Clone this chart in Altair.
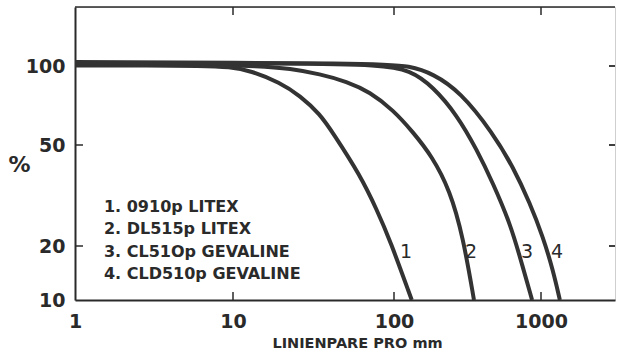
import altair as alt
import pandas as pd

# ---- data ----
c1_x = [1, 3, 6.2, 9.6, 12.8, 19.6, 26.1, 34.7, 41.8, 61.5, 78.4, 94.4, 132]
c1_y = [100.5, 100.5, 100.2, 99.2, 96, 86.5, 77, 65.6, 55.5, 38.1, 27.7, 21.1, 10]
c2_x = [1, 6.2, 14.7, 22.6, 34.7, 51, 70.9, 98.6, 134.6, 181, 240, 295, 350]
c2_y = [101.5, 101.3, 100, 97.8, 93.2, 87.2, 79.6, 68, 56, 45.2, 33.2, 21.7, 10]
c3_x = [1, 26, 82, 128.5, 184, 268, 367, 471, 615, 719, 870]
c3_y = [102.5, 102.3, 101, 96.6, 83.5, 65.1, 47.8, 35.4, 24.6, 17.4, 10]
c4_x = [1, 80, 128.5, 184, 281, 471, 645, 841, 1032, 1207, 1345]
c4_y = [103.5, 102.5, 100, 93.5, 80, 55.5, 41, 29.5, 21.7, 14.7, 10]

legend_lines = ["1. 0910p LITEX", "2. DL515p LITEX", "3. CL51Op GEVALINE", "4. CLD510p GEVALINE"]
legend_y = [28.4, 23.3, 18.6, 14.05]
legend_x = [1.525] * 4

curve_labels = ["1", "2", "3", "4"]
curve_label_x = [120.6, 334, 803, 1285]
curve_label_y = [18.6] * 4

x_ticks = [1, 10, 100, 1000]
y_ticks = [10, 20, 50, 100]
x_inner_ticks = [10, 100, 1000]
y_left_inner = [20, 50]
y_right_inner = [20, 50, 100]

W, H = 540, 293
INK = "#2a2a2a"

rows = []
for cid, xs, ys in [("1", c1_x, c1_y), ("2", c2_x, c2_y), ("3", c3_x, c3_y), ("4", c4_x, c4_y)]:
    for i, (a, b) in enumerate(zip(xs, ys)):
        rows.append({"curve": cid, "lp": a, "pct": b, "order": i})
df = pd.DataFrame(rows)

xscale = alt.Scale(type="log", domain=[1, 10, 100, 1000, 3200],
                   range=[0, 158, 319, 466, W], nice=False, zero=False)
yscale = alt.Scale(type="log", domain=[10, 20, 50, 100, 168],
                   range=[H, 239, 138, 59, 0], nice=False, zero=False)

xaxis = alt.Axis(values=x_ticks, format="d", ticks=False, grid=False,
                 domainColor=INK, domainWidth=2, labelPadding=12,
                 labelFlush=False, labelOverlap=False,
                 title="LINIENPARE PRO mm", titleX=282, titleY=43,
                 titleAlign="center", titleBaseline="middle",
                 titleFont="DejaVu Sans", titleFontSize=14.5, titleFontWeight="bold")
yaxis = alt.Axis(values=y_ticks, format="d", ticks=False, grid=False,
                 domainColor=INK, domainWidth=2, labelPadding=10,
                 labelFlush=False, labelOverlap=False, labelBaseline="middle",
                 title="%", titleAngle=0, titleX=-56, titleY=157,
                 titleAlign="center", titleBaseline="middle",
                 titleFont="DejaVu Sans", titleFontSize=22, titleFontWeight="bold")

lines = alt.Chart(df).mark_line(color="#333333", strokeWidth=4,
                                interpolate="basis", clip=True).encode(
    x=alt.X("lp:Q", scale=xscale, axis=xaxis),
    y=alt.Y("pct:Q", scale=yscale, axis=yaxis),
    detail="curve:N",
    order="order:Q",
)

xt = pd.DataFrame({"v": x_inner_ticks})
bottom_ticks = alt.Chart(xt).mark_rule(color=INK, strokeWidth=1.5).encode(
    x=alt.X("v:Q", scale=xscale), y=alt.value(H), y2=alt.value(H - 8))
top_ticks = alt.Chart(xt).mark_rule(color=INK, strokeWidth=1.5).encode(
    x=alt.X("v:Q", scale=xscale), y=alt.value(0), y2=alt.value(8))
left_ticks = alt.Chart(pd.DataFrame({"v": y_left_inner})).mark_rule(color=INK, strokeWidth=1.5).encode(
    y=alt.Y("v:Q", scale=yscale), x=alt.value(0), x2=alt.value(8))
right_ticks = alt.Chart(pd.DataFrame({"v": y_right_inner})).mark_rule(color=INK, strokeWidth=1.8).encode(
    y=alt.Y("v:Q", scale=yscale), x=alt.value(W - 6), x2=alt.value(W))
top_border = alt.Chart(pd.DataFrame({"v": [0]})).mark_rule(color=INK, strokeWidth=1.6).encode(
    x=alt.value(0), x2=alt.value(W), y=alt.value(0))

leg = pd.DataFrame({"t": legend_lines, "x": legend_x, "y": legend_y})
legend_text = alt.Chart(leg).mark_text(align="left", baseline="middle",
                                        font="DejaVu Sans", fontSize=16,
                                        fontWeight="bold", color=INK).encode(
    x=alt.X("x:Q", scale=xscale), y=alt.Y("y:Q", scale=yscale), text="t:N")

cl = pd.DataFrame({"t": curve_labels, "x": curve_label_x, "y": curve_label_y})
curve_text = alt.Chart(cl).mark_text(align="center", baseline="middle",
                                      font="DejaVu Sans", fontSize=19, color=INK).encode(
    x=alt.X("x:Q", scale=xscale), y=alt.Y("y:Q", scale=yscale), text="t:N")

chart = alt.layer(lines, bottom_ticks, top_ticks, left_ticks, right_ticks, top_border,
                  legend_text, curve_text).properties(
    width=W, height=H,
    autosize=alt.AutoSizeParams(type="none"),
    padding={"left": 75, "top": 7, "right": 3, "bottom": 54},
    background="white",
).configure_view(stroke="#cfcfcf", strokeWidth=1).configure_axis(
    labelFont="DejaVu Sans", labelFontSize=19, labelFontWeight="bold",
    labelColor=INK, titleColor=INK)

chart.save("out.html", embed_options={"renderer": "svg", "actions": False})
